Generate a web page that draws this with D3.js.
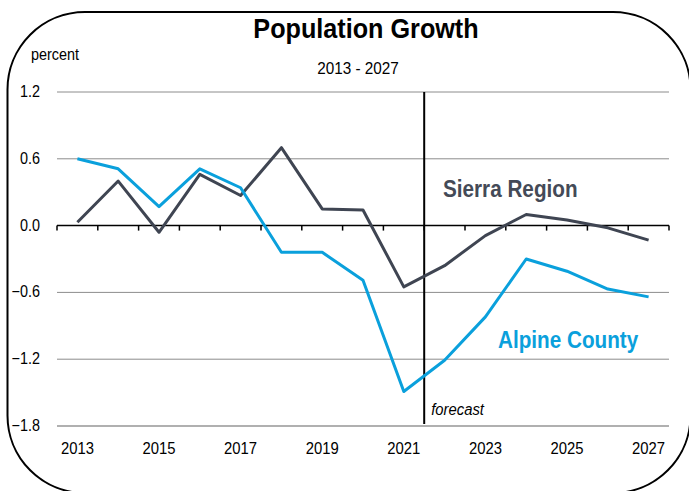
<!DOCTYPE html>
<html>
<head>
<meta charset="utf-8">
<script src="https://cdn.jsdelivr.net/npm/d3@7"></script>
<style>
  body { margin: 0; background: #fff; }
  svg { display: block; font-family: "Liberation Sans", Arial, sans-serif; }
</style>
</head>
<body>
<svg id="chart" width="689" height="491"></svg>
<script>
const years = d3.range(2013, 2028)
const yearLabels = [2013, 2015, 2017, 2019, 2021, 2023, 2025, 2027]
const sierra = [0.03, 0.40, -0.06, 0.46, 0.27, 0.70, 0.15, 0.14, -0.55, -0.36, -0.09, 0.10, 0.05, -0.02, -0.13]
const alpine = [0.60, 0.51, 0.17, 0.51, 0.34, -0.24, -0.24, -0.49, -1.49, -1.21, -0.82, -0.30, -0.41, -0.57, -0.64]
const yTicks = [1.2, 0.6, 0.0, -0.6, -1.2, -1.8]
const forecastStart = 2021.5

const width = 689, height = 491
const margin = {top: 92, right: 20, bottom: 65, left: 57}
const svg = d3.select('#chart')

// text in the source is a bit narrow, squeeze it horizontally
const squeeze = 0.9
function label(g, tx, ty, str) {
  return g.append('text')
    .attr('transform', `translate(${tx},${ty}) scale(${squeeze},1)`)
    .text(str)
}

// rounded frame
svg.append('rect')
  .attr('x', 7.5).attr('y', 12)
  .attr('width', 683).attr('height', 481)
  .attr('rx', 77.5).attr('ry', 77.5)
  .attr('fill', 'none').attr('stroke', '#000').attr('stroke-width', 2)

const x = d3.scaleBand().domain(years).range([margin.left, width - margin.right])
const xc = d => x(d) + x.bandwidth() / 2
const y = d3.scaleLinear().domain([-1.8, 1.2]).range([height - margin.bottom, margin.top])

// gridlines
svg.append('g')
  .selectAll('line')
  .data(yTicks.filter(d => d !== 0))
  .join('line')
  .attr('x1', margin.left).attr('x2', width - margin.right)
  .attr('y1', d => y(d)).attr('y2', d => y(d))
  .attr('stroke', d => d === -1.8 ? '#b0b0b0' : '#8c8c8c')
  .attr('stroke-width', d => d === -1.8 ? 2 : 1)

// y labels
const yl = svg.append('g').attr('font-size', 16).attr('text-anchor', 'end')
yTicks.forEach(d => label(yl, 40, y(d) + 5, d3.format('.1f')(d)))

// zero axis with ticks at band edges
const zero = svg.append('g').attr('transform', `translate(0,${y(0)})`)
zero.append('line')
  .attr('x1', margin.left).attr('x2', width - margin.right)
  .attr('stroke', '#000').attr('stroke-width', 1.5)
zero.selectAll('.tick')
  .data(years.concat([2028]))
  .join('line')
  .attr('x1', d => d === 2028 ? width - margin.right : x(d))
  .attr('x2', d => d === 2028 ? width - margin.right : x(d))
  .attr('y1', 0).attr('y2', 5)
  .attr('stroke', '#000').attr('stroke-width', 1.5)

// x labels
const xl = svg.append('g').attr('font-size', 16.5).attr('text-anchor', 'middle')
yearLabels.forEach(d => label(xl, xc(d), 454, d))

// forecast divider
const fx = margin.left + (forecastStart - 2013 + 0.5) * x.step()
svg.append('line')
  .attr('x1', fx).attr('x2', fx)
  .attr('y1', y(1.2)).attr('y2', y(-1.8) - 2)
  .attr('stroke', '#000').attr('stroke-width', 2)
label(svg, fx + 7, 415, 'forecast')
  .attr('font-size', 16.5).attr('font-style', 'italic')

// lines
const line = d3.line().x((d, i) => xc(years[i])).y(d => y(d))
svg.append('path').datum(sierra)
  .attr('d', line).attr('fill', 'none')
  .attr('stroke', '#3f4552').attr('stroke-width', 3).attr('stroke-linejoin', 'round')
svg.append('path').datum(alpine)
  .attr('d', line).attr('fill', 'none')
  .attr('stroke', '#0aa0dc').attr('stroke-width', 3).attr('stroke-linejoin', 'round')

// series labels
label(svg, 443, 197, 'Sierra Region')
  .attr('font-size', 23).attr('font-weight', 'bold').attr('fill', '#444a57')
label(svg, 498, 348, 'Alpine County')
  .attr('font-size', 23).attr('font-weight', 'bold').attr('fill', '#0aa0dc')

// titles
label(svg, 366, 38, 'Population Growth')
  .attr('text-anchor', 'middle').attr('font-size', 28).attr('font-weight', 'bold')
label(svg, 358, 74, '2013 - 2027')
  .attr('text-anchor', 'middle').attr('font-size', 17)
label(svg, 31, 60, 'percent')
  .attr('font-size', 16)
</script>
</body>
</html>
